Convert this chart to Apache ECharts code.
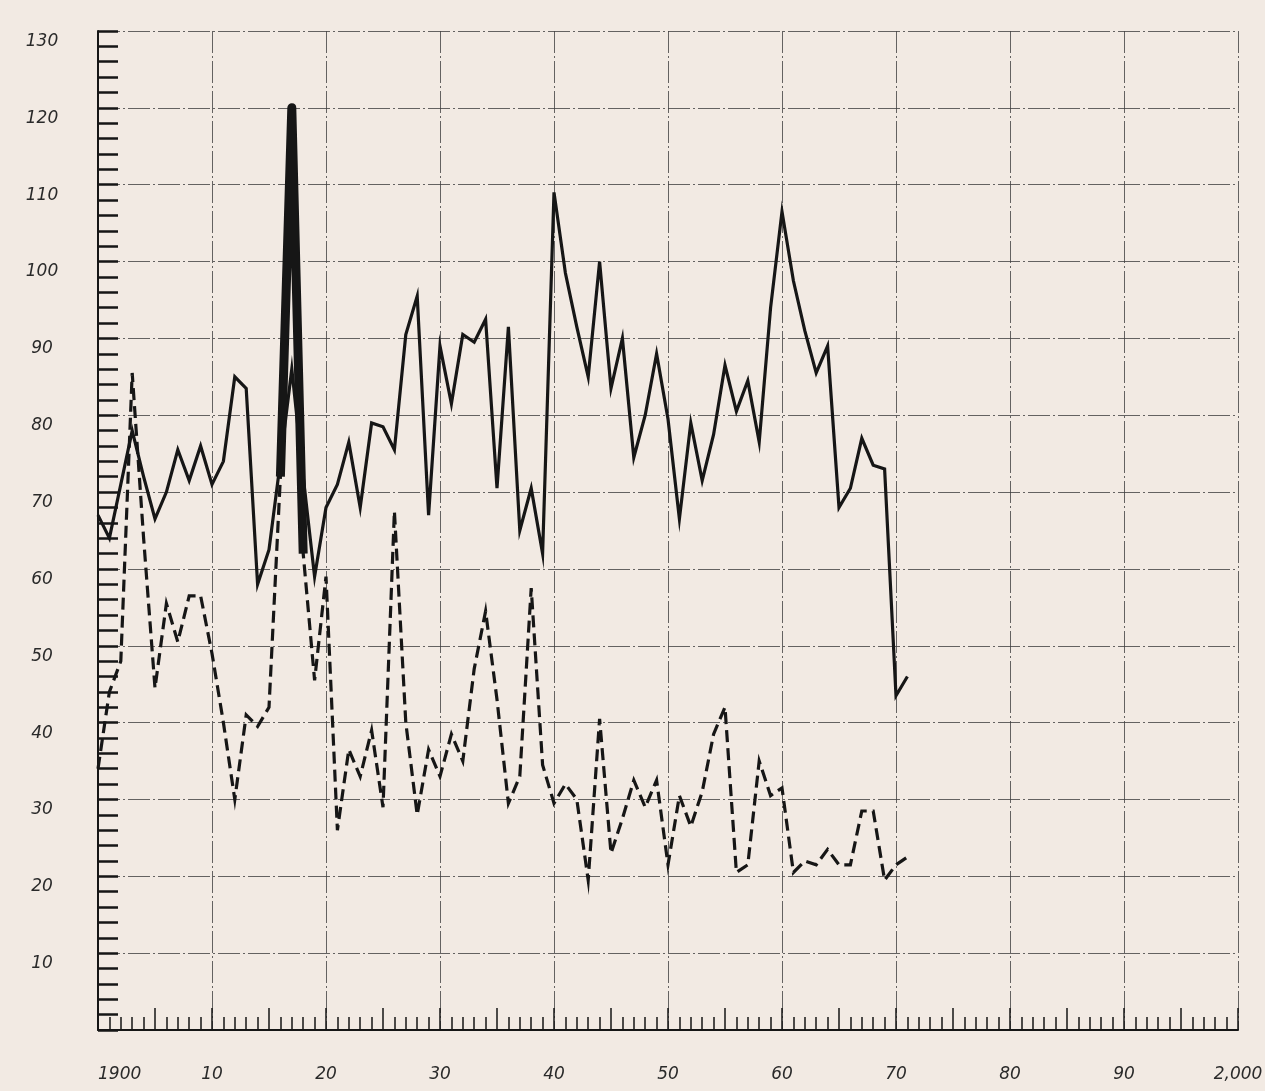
<!DOCTYPE html>
<html>
<head>
<meta charset="utf-8">
<script src="https://cdn.jsdelivr.net/npm/echarts@6/dist/echarts.min.js"></script>
<style>
html,body{margin:0;padding:0;background:#f2eae3;}
#c{width:1265px;height:1091px;}
</style>
</head>
<body>
<div id="c"></div>
<script>
const years = [1900,1901,1902,1903,1904,1905,1906,1907,1908,1909,
  1910,1911,1912,1913,1914,1915,1916,1917,1918,1919,
  1920,1921,1922,1923,1924,1925,1926,1927,1928,1929,
  1930,1931,1932,1933,1934,1935,1936,1937,1938,1939,
  1940,1941,1942,1943,1944,1945,1946,1947,1948,1949,
  1950,1951,1952,1953,1954,1955,1956,1957,1958,1959,
  1960,1961,1962,1963,1964,1965,1966,1967,1968,1969,
  1970,1971];

const solidValues = [67,64,71,78,72,66.5,70,75.5,71.5,76,
  71,74,85,83.5,58,62.5,74,86,72,59,
  68,71,76.5,68,79,78.5,75.5,90.5,95.5,67,
  89,81.5,90.5,89.5,92.5,70.5,91.5,65,70.5,62,
  109,98.5,91.5,85,100,83.5,90,74.5,80,88,
  79.5,66.5,79,71.5,77.5,86.5,80.5,84.5,76.5,94,
  106.5,97.5,91,85.5,89,68,70.5,77,73.5,73,
  43.5,46];

const dashedValues = [34,44,48,85.5,64,44.5,55.5,50.5,56.5,56.5,
  49,40,30,41,39.5,42,72,120,62,45.5,
  59,26,36.5,33,39,29,67.5,40,28,36.5,
  33,38.5,35,47,54.5,43,29.5,33,57.5,34.5,
  29.5,32,30,19.5,40.5,23,27.5,32.5,29,32.5,
  21.5,30.5,26.5,31,38.5,42,20.5,21.5,35,30.5,
  31.5,20.5,22,21.5,23.5,21.5,21.5,28.5,28.5,19.5,
  21.5,22.5];

// years where the ink of the dashed spike is smeared thick
const smudgeYears = [1916,1917,1918];

const xTickLabels = {1900:'1900',1910:'10',1920:'20',1930:'30',1940:'40',1950:'50',
  1960:'60',1970:'70',1980:'80',1990:'90',2000:'2,000'};
const yTickLabels = {10:'10',20:'20',30:'30',40:'40',50:'50',60:'60',70:'70',
  80:'80',90:'90',100:'100',110:'110',120:'120',130:'130'};

const ink = '#161616';
const gridLineStyle = {color:'#404040', width:1, type:[22,3,2,3], opacity:0.8};
const labelStyle = {color:'#2a2a2a', fontFamily:'DejaVu Sans', fontStyle:'italic', fontSize:17};

const solidData = years.map((y,i)=>[y, solidValues[i]]);
const dashedData = years.map((y,i)=>[y, dashedValues[i]]);
const smudgeData = years.map((y,i)=>[y, dashedValues[i]]).filter(d=>smudgeYears.indexOf(d[0])>=0);

const chart = echarts.init(document.getElementById('c'), null, {renderer:'canvas'});
chart.setOption({
  backgroundColor:'#f2eae3',
  animation:false,
  grid:{left:98, right:27, top:31, bottom:61, containLabel:false, outerBoundsMode:'none'},
  xAxis:[
    {
      type:'value', min:1900, max:2000, interval:10, position:'bottom',
      axisLine:{show:true, onZero:false, lineStyle:{color:ink, width:2}},
      axisTick:{show:true, inside:true, length:13, lineStyle:{color:ink, width:1.5}},
      minorTick:{show:true, splitNumber:10, length:13, lineStyle:{color:ink, width:1.5}},
      splitLine:{show:true, lineStyle:gridLineStyle},
      axisLabel:Object.assign({
        margin:36, alignMinLabel:'left', showMinLabel:true, showMaxLabel:true,
        formatter:v=>xTickLabels[v] || ''
      }, labelStyle)
    },
    {
      type:'value', min:1900, max:2000, interval:5, position:'bottom', offset:0,
      axisLine:{show:false},
      axisTick:{show:true, inside:true, length:22, lineStyle:{color:ink, width:1.5}},
      axisLabel:{show:false},
      splitLine:{show:false}
    }
  ],
  yAxis:{
    type:'value', min:0, max:130, interval:10,
    axisLine:{show:true, onZero:false, lineStyle:{color:ink, width:2}},
    axisTick:{show:true, inside:true, length:20, lineStyle:{color:ink, width:2.5}},
    minorTick:{show:true, splitNumber:5, length:20, lineStyle:{color:ink, width:2.5}},
    splitLine:{show:true, lineStyle:gridLineStyle},
    axisLabel:Object.assign({
      margin:56, align:'center', verticalAlign:'top', padding:[2,0,0,0],
      formatter:v=>yTickLabels[v] || ''
    }, labelStyle)
  },
  series:[
    {
      name:'solid', type:'line', data:solidData, xAxisIndex:0, symbol:'none',
      lineStyle:{color:ink, width:3.2, join:'miter'}, z:3
    },
    {
      name:'dashed', type:'line', data:dashedData, xAxisIndex:0, symbol:'none',
      lineStyle:{color:ink, width:3.2, type:[12,6], cap:'butt', join:'miter'}, z:4
    },
    {
      name:'smudge', type:'line', data:smudgeData, xAxisIndex:0, symbol:'none',
      lineStyle:{color:ink, width:9, join:'round'}, z:5
    }
  ]
});
</script>
</body>
</html>
